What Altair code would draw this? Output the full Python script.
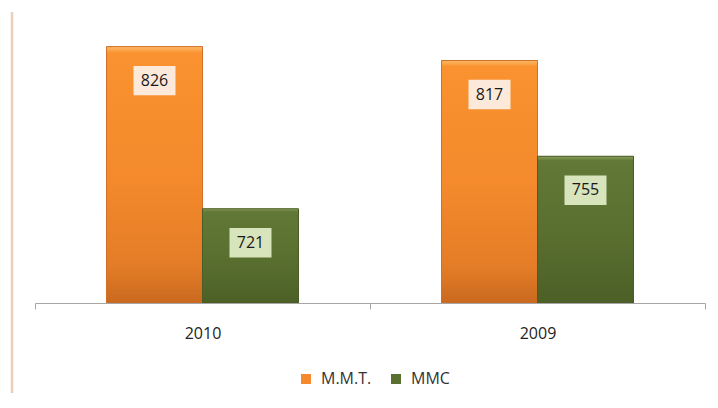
import altair as alt
import pandas as pd

years = ["2010", "2009"]
series = ["М.М.Т.", "ММС"]
mmt_values = [826, 817]
mmc_values = [721, 755]
bar_colors = ["#F58A2C", "#5A7030"]
label_fills = ["#FCE9DA", "#D8E4BC"]

rows = []
for i, yr in enumerate(years):
    rows.append({"year": yr, "series": series[0], "value": mmt_values[i]})
    rows.append({"year": yr, "series": series[1], "value": mmc_values[i]})
df = pd.DataFrame(rows)

FONT = "Open Sans"

x_enc = alt.X(
    "year:N", sort=years,
    scale=alt.Scale(paddingInner=0, paddingOuter=0),
    axis=alt.Axis(title=None, labelAngle=0, tickBand="extent", domainColor="#A6A6A6",
                  tickColor="#A6A6A6", tickSize=6, labelPadding=16, labelFont=FONT,
                  labelFontSize=16, labelColor="#222222", grid=False),
)
xo_enc = alt.XOffset("series:N", sort=series,
                     scale=alt.Scale(domain=series, paddingInner=0, paddingOuter=0.745))
y_enc = alt.Y("value:Q", stack=None,
              scale=alt.Scale(domain=[660, 840], zero=False, nice=False), axis=None)


def grad(stops):
    return alt.Gradient(gradient="linear",
                        stops=[alt.GradientStop(color=c, offset=o) for o, c in stops],
                        x1=0, x2=0, y1=0, y2=1)


base = alt.Chart(df).mark_bar(clip=True).encode(
    x=x_enc, xOffset=xo_enc, y=y_enc,
    color=alt.Color("series:N", sort=series,
                    scale=alt.Scale(domain=series, range=bar_colors),
                    legend=alt.Legend(title=None, orient="none", legendX=263, legendY=346,
                                      direction="horizontal", symbolType="square",
                                      symbolSize=100, labelFont=FONT, labelFontSize=16,
                                      labelColor="#333333", columnPadding=16, labelOffset=7,
                                      symbolStrokeWidth=0)),
)

orange = alt.Chart(df).transform_filter(alt.datum.series == series[0]).mark_bar(
    clip=True,
    color=grad([(0, "#FDBB6A"), (0.025, "#F9922F"), (0.5, "#F48A2C"), (0.85, "#E47D27"), (1, "#C9691F")]),
    stroke="#D0702A", strokeWidth=1,
).encode(x=x_enc, xOffset=xo_enc, y=y_enc)

green = alt.Chart(df).transform_filter(alt.datum.series == series[1]).mark_bar(
    clip=True,
    color=grad([(0, "#8AA05E"), (0.03, "#617837"), (0.5, "#5A7030"), (1, "#4C6027")]),
    stroke="#4A5D26", strokeWidth=1,
).encode(x=x_enc, xOffset=xo_enc, y=y_enc)

boxes = alt.Chart(df).mark_point(
    shape="M-1,-0.7L1,-0.7L1,0.7L-1,0.7Z", size=1764, filled=True, opacity=1,
    strokeWidth=0, yOffset=34,
).encode(
    x=x_enc, xOffset=xo_enc, y=y_enc,
    fill=alt.Fill("series:N", sort=series,
                  scale=alt.Scale(domain=series, range=label_fills), legend=None),
)

labels = alt.Chart(df).mark_text(
    dy=34, font=FONT, fontSize=16, color="#1A1A1A", baseline="middle", align="center",
).encode(x=x_enc, xOffset=xo_enc, y=y_enc, text="value:Q")

border = alt.Chart(pd.DataFrame({"k": [0]})).mark_rule(
    color="#EBCFB8", strokeWidth=2.5,
).encode(x=alt.value(-23), y=alt.value(-13), y2=alt.value(400))

chart = alt.layer(border, base, orange, green, boxes, labels).properties(
    width=670, height=278, autosize="none",
    padding={"left": 27, "top": 17, "right": 5, "bottom": 90},
).configure_view(stroke=None)

chart.save("out.html", embed_options={"renderer": "svg", "actions": False})
